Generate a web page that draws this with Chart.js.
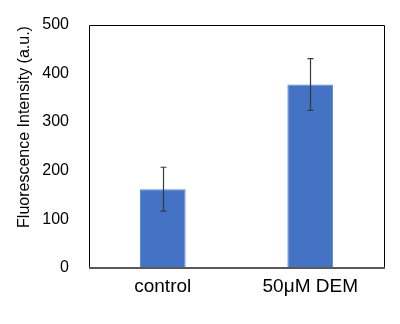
<!DOCTYPE html>
<html>
<head>
<meta charset="utf-8">
<script src="https://cdn.jsdelivr.net/npm/chart.js@4/dist/chart.umd.min.js"></script>
<style>
  body { margin: 0; background: #fff; }
  #wrap { width: 400px; height: 324px; }
</style>
</head>
<body>
<div id="wrap"><canvas id="fluoChart" width="400" height="324"></canvas></div>
<script>
const categories = ['control', '50μM DEM'];
const meanValues = [162, 377];
const errorValues = [45, 53];
const yMin = 0;
const yMax = 500;
const yStep = 100;
const yTitle = 'Fluorescence Intensity (a.u.)';

const FONT = "Arial, 'Liberation Sans', sans-serif";

// error bars (mean +/- error), drawn through the y scale
const errorBars = {
    id: 'errorBars',
    afterDatasetsDraw(chart) {
        const ctx = chart.ctx;
        const y = chart.scales.y;
        const meta = chart.getDatasetMeta(0);
        ctx.save();
        ctx.strokeStyle = '#3a3a3a';
        ctx.lineWidth = 1.2;
        meta.data.forEach((bar, i) => {
            const x = Math.round(bar.x) + 0.5;
            const top = y.getPixelForValue(meanValues[i] + errorValues[i]);
            const bot = y.getPixelForValue(meanValues[i] - errorValues[i]);
            ctx.beginPath();
            ctx.moveTo(x, top); ctx.lineTo(x, bot);
            ctx.moveTo(x - 3, top); ctx.lineTo(x + 3, top);
            ctx.moveTo(x - 3, bot); ctx.lineTo(x + 3, bot);
            ctx.stroke();
        });
        ctx.restore();
    }
};

// box round the plot area and the rotated y title
const frame = {
    id: 'frame',
    afterDraw(chart) {
        const ctx = chart.ctx;
        const a = chart.chartArea;
        ctx.save();
        ctx.strokeStyle = '#000';
        ctx.lineWidth = 1;
        ctx.beginPath();
        ctx.moveTo(Math.round(a.left) + 0.5, Math.round(a.bottom));
        ctx.lineTo(Math.round(a.left) + 0.5, Math.round(a.top) + 0.5);
        ctx.lineTo(Math.round(a.right) + 0.5, Math.round(a.top) + 0.5);
        ctx.lineTo(Math.round(a.right) + 0.5, Math.round(a.bottom));
        ctx.stroke();
        ctx.strokeStyle = '#5a5a5a';
        ctx.lineWidth = 2;
        ctx.beginPath();
        ctx.moveTo(a.left, Math.round(a.bottom));
        ctx.lineTo(a.right + 1, Math.round(a.bottom));
        ctx.stroke();

        ctx.translate(25, 127);
        ctx.rotate(-Math.PI / 2);
        ctx.fillStyle = '#000';
        ctx.font = '16px ' + FONT;
        ctx.textAlign = 'center';
        ctx.textBaseline = 'middle';
        ctx.fillText(yTitle, 0, 0);
        ctx.restore();
    }
};

new Chart(document.getElementById('fluoChart').getContext('2d'), {
    type: 'bar',
    data: {
        labels: categories,
        datasets: [{
            data: meanValues,
            backgroundColor: '#4472C4',
            borderColor: '#5584d6',
            borderWidth: 1,
            categoryPercentage: 1,
            barPercentage: 0.31
        }]
    },
    options: {
        responsive: false,
        animation: false,
        events: [],
        layout: { padding: { top: 24, right: 16, left: 0, bottom: 0 } },
        plugins: { legend: { display: false }, tooltip: { enabled: false } },
        scales: {
            x: {
                grid: { display: false, drawTicks: false },
                border: { display: false },
                ticks: { color: '#000', padding: 7, font: { family: FONT, size: 19 } },
                afterFit: s => { s.height = 56; }
            },
            y: {
                min: yMin,
                max: yMax,
                grid: { display: false, drawOnChartArea: false, drawTicks: true, tickLength: 5, color: '#000' },
                border: { display: false },
                ticks: { stepSize: yStep, color: '#000', padding: 15, font: { family: FONT, size: 16 } },
                afterFit: s => { s.width = 89; }
            }
        }
    },
    plugins: [errorBars, frame]
});
</script>
</body>
</html>
